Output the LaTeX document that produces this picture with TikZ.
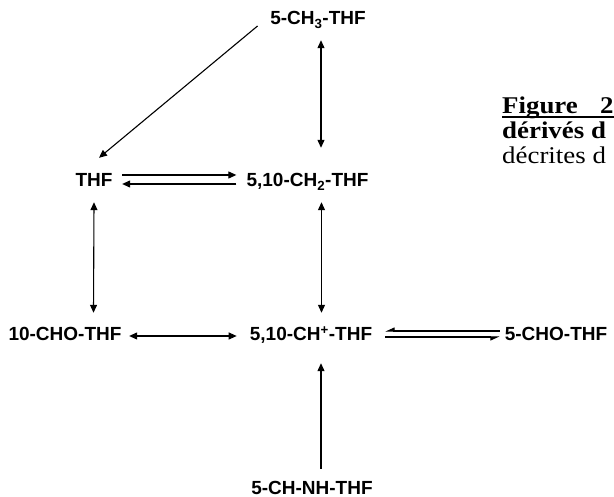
\documentclass[tikz,border=0pt]{standalone}
\usepackage{fontspec}
\setmainfont{Liberation Serif}
\newfontfamily\labfont{Liberation Sans}
\newfontfamily\capfont{Liberation Serif}[FakeStretch=1.12]
\usetikzlibrary{arrows.meta}
\begin{document}
\begin{tikzpicture}[x=1pt,y=-1pt,
  lab/.style={font=\labfont\bfseries\fontsize{19}{21}\selectfont, inner sep=0pt, anchor=base, text height=14pt, text depth=4pt},
  arr/.style={line width=1.1pt, -{Triangle[length=8pt,width=7pt]}},
  dbl/.style={line width=1.1pt, {Triangle[length=8pt,width=7pt]}-{Triangle[length=8pt,width=7pt]}},
  harps/.style={line width=1.1pt, -{Triangle[length=8pt,width=7pt,harpoon,swap]}},
  captext/.style={font=\capfont\fontsize{24}{27}\selectfont, inner sep=0pt, anchor=base west}
]
\useasboundingbox (0,0) rectangle (614,497);
\clip (0,0) rectangle (614,497);

% labels
\node[lab] (ch3) at (318,25) {5-CH\textsubscript{3}-THF};
\node[lab] (thf) at (94,187) {THF};
\node[lab] (ch2) at (307.5,187) {5,10-CH\textsubscript{2}-THF};
\node[lab] (cho10) at (65,341) {10-CHO-THF};
\node[lab] (chp) at (311,341) {5,10-CH\textsuperscript{+}-THF};
\node[lab] (cho5) at (556,341) {5-CHO-THF};
\node[lab] (chnh) at (312,494) {5-CH-NH-THF};

% caption
\node[captext] (fig) at (502,114) {\bfseries Figure};
\node[captext] (fig2) at (600,114) {\bfseries 2};
\node[captext] (l2) at (502,139) {\bfseries dérivés d};
\node[captext] (l3) at (502,164) {décrites d};
\draw[line width=1.6pt] ([yshift=-3pt]fig.base west) -- ([yshift=-3pt,xshift=30pt]fig2.base west);

% connectors
\draw[dbl] ([xshift=3pt,yshift=-11pt]ch3.south) -- ([xshift=13.5pt,yshift=25pt]ch2.north);
\draw[arr] ([xshift=-12.5pt,yshift=-6pt]ch3.west) -- ([xshift=5pt,yshift=15pt]thf.north);
\draw[arr] ([xshift=9.5pt,yshift=7pt]thf.east) -- ([xshift=-10pt,yshift=7pt]ch2.west);
\draw[arr] ([xshift=-10pt,yshift=-2pt]ch2.west) -- ([xshift=9.5pt,yshift=-2pt]thf.east);
\draw[dbl] ([yshift=-11pt]thf.south) -- ([xshift=28.5pt,yshift=14pt]cho10.north);
\draw[dbl] ([xshift=14pt,yshift=-11pt]ch2.south) -- ([xshift=10.5pt,yshift=14pt]chp.north);
\draw[dbl] ([xshift=7.5pt]cho10.east) -- ([xshift=-13pt]chp.west);
\draw[harps] ([xshift=-5pt,yshift=5pt]cho5.west) -- ([xshift=13pt,yshift=5pt]chp.east);
\draw[harps] ([xshift=13pt,yshift=-1pt]chp.east) -- ([xshift=-5pt,yshift=-1pt]cho5.west);
\draw[arr] ([xshift=9pt,yshift=11pt]chnh.north) -- ([xshift=10pt,yshift=-18pt]chp.south);
\end{tikzpicture}
\end{document}
